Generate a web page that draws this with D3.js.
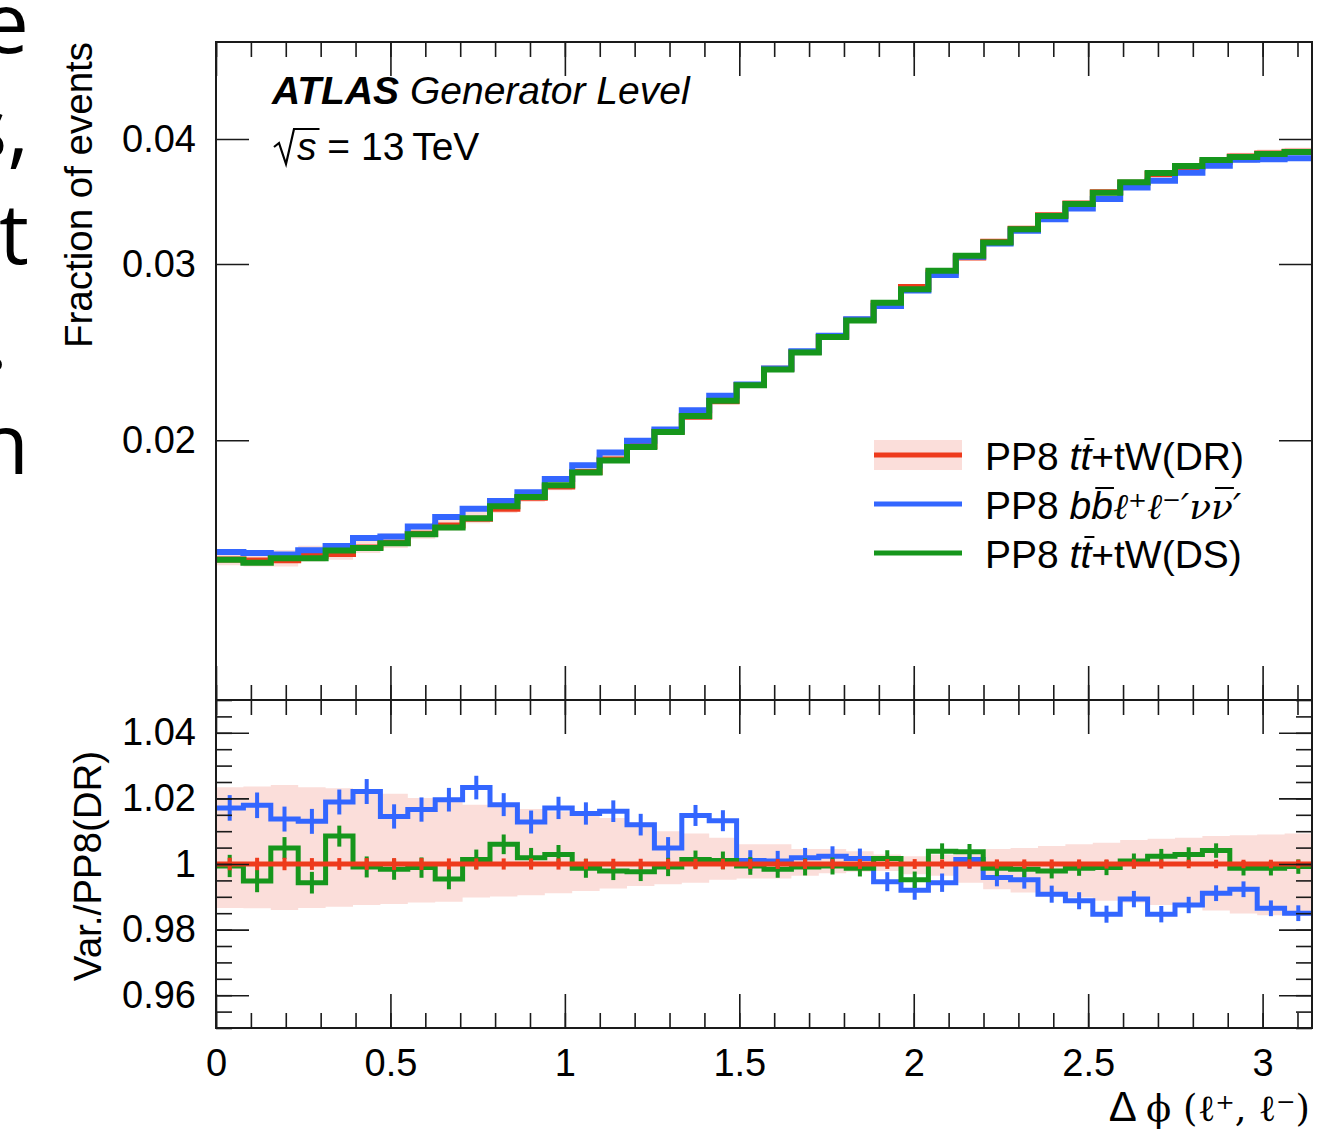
<!DOCTYPE html>
<html>
<head>
<meta charset="utf-8">
<script src="https://cdn.jsdelivr.net/npm/d3@7"></script>
<style>
	body { margin: 0; background: #fff; }
	svg { display: block; font-family: "Liberation Sans", Arial, sans-serif; }
</style>
</head>
<body>
<svg id="chart" width="1318" height="1133"></svg>
<script>
/* global d3 */

// 40 bins in delta phi from 0 to pi
const binEdges = d3.range(41).map((i) => (i * Math.PI) / 40);

// PP8 tt+tW(DR) fraction of events per bin
const drValues = [
	0.0152, 0.01516, 0.01517, 0.01533, 0.01539, 0.01562, 0.0158, 0.01613, 0.01644, 0.01669,
	0.01708, 0.01752, 0.01798, 0.01859, 0.01913, 0.01974, 0.0204, 0.02111, 0.02187, 0.02271,
	0.02357, 0.0245, 0.02538, 0.02638, 0.02739, 0.02845, 0.02942, 0.03046, 0.03157, 0.03254,
	0.03357, 0.03448, 0.03538, 0.03617, 0.0369, 0.03748, 0.03795, 0.03842, 0.03869, 0.03885,
];

// ratios to DR
const bb4lRatio = [
	1.0171, 1.0179, 1.0137, 1.013, 1.0189, 1.0221, 1.0145, 1.0166, 1.0196, 1.0233,
	1.0181, 1.0128, 1.0171, 1.0154, 1.0161, 1.012, 1.0049, 1.0148, 1.0132, 1.0011,
	1.0009, 1.0019, 1.0024, 1.0017, 0.9946, 0.992, 0.9943, 1.0014, 0.9959, 0.9952,
	0.9908, 0.9888, 0.9847, 0.9893, 0.9847, 0.9875, 0.9911, 0.9923, 0.9865, 0.985,
];
const dsRatio = [
	0.9994, 0.9948, 1.0049, 0.9943, 1.0085, 0.9991, 0.9984, 0.9989, 0.9954, 1.0014,
	1.006, 1.0019, 1.0029, 0.9987, 0.9979, 0.9976, 0.9991, 1.0014, 1.0011, 0.9994,
	0.9984, 0.9991, 0.9994, 0.9987, 1.0017, 0.9952, 1.0039, 1.0037, 0.9987, 0.9984,
	0.9979, 0.9987, 0.9989, 1.0009, 1.0024, 1.0029, 1.0041, 0.9987, 0.9987, 0.9992,
];

// statistical errors on the ratios
const bb4lErr = [
	0.0039, 0.0039, 0.0038, 0.0038, 0.0038, 0.0038, 0.0037, 0.0037, 0.0036, 0.0036,
	0.0035, 0.0035, 0.0034, 0.0034, 0.0033, 0.0033, 0.0033, 0.0032, 0.0032, 0.0031,
	0.0031, 0.003, 0.003, 0.003, 0.0029, 0.0029, 0.0028, 0.0028, 0.0027, 0.0027,
	0.0026, 0.0026, 0.0026, 0.0025, 0.0025, 0.0025, 0.0024, 0.0024, 0.0024, 0.0024,
];
const dsErr = [
	0.0034, 0.0034, 0.0033, 0.0033, 0.0032, 0.0032, 0.0032, 0.0031, 0.0031, 0.003,
	0.003, 0.003, 0.0029, 0.0029, 0.0028, 0.0028, 0.0028, 0.0027, 0.0027, 0.0027,
	0.0026, 0.0026, 0.0026, 0.0025, 0.0025, 0.0025, 0.0024, 0.0024, 0.0024, 0.0024,
	0.0023, 0.0023, 0.0023, 0.0023, 0.0022, 0.0022, 0.0022, 0.0022, 0.0022, 0.0022,
];
const drErr = [
	0.0019, 0.0019, 0.0019, 0.0018, 0.0018, 0.0018, 0.0018, 0.0018, 0.0017, 0.0017,
	0.0017, 0.0017, 0.0017, 0.0016, 0.0016, 0.0016, 0.0016, 0.0016, 0.0016, 0.0015,
	0.0015, 0.0015, 0.0015, 0.0015, 0.0015, 0.0015, 0.0014, 0.0014, 0.0014, 0.0014,
	0.0014, 0.0014, 0.0014, 0.0014, 0.0014, 0.0013, 0.0013, 0.0013, 0.0013, 0.0013,
];

// DR uncertainty band (relative)
const bandUp = [
	1.0234, 1.0236, 1.0241, 1.0234, 1.0231, 1.0226, 1.0214, 1.0201, 1.0191, 1.0181,
	1.0176, 1.0168, 1.0161, 1.0151, 1.014, 1.0128, 1.01, 1.0093, 1.008, 1.006,
	1.006, 1.0046, 1.0046, 1.0039, 1.0029, 1.0024, 1.0029, 1.0034, 1.0046, 1.0049,
	1.0055, 1.006, 1.0065, 1.0073, 1.0077, 1.008, 1.0085, 1.0088, 1.009, 1.0093,
];
const bandDown = [
	0.9866, 0.9865, 0.986, 0.9866, 0.987, 0.9875, 0.9878, 0.9883, 0.9885, 0.9898,
	0.9901, 0.9905, 0.9911, 0.9918, 0.9925, 0.9933, 0.9938, 0.9943, 0.9952, 0.9956,
	0.9956, 0.9964, 0.9972, 0.9976, 0.9979, 0.9969, 0.9964, 0.9943, 0.9923, 0.9913,
	0.9903, 0.9898, 0.9888, 0.9883, 0.9875, 0.9868, 0.9858, 0.9849, 0.9844, 0.9842,
];

const mainYTicks = [0.02, 0.03, 0.04];
const ratioYTicks = [0.96, 0.98, 1, 1.02, 1.04];
const xMajorTicks = [0, 0.5, 1, 1.5, 2, 2.5, 3];

const colors = { dr: "#ee3a1c", bb4l: "#3366ff", ds: "#16961c", band: "#fbdeda", axis: "#1a1a1a" };

const svg = d3.select("#chart");
const frame = { left: 216, right: 1312, top: 42, split: 700, bottom: 1028 };

const x = d3.scaleLinear().domain([0, Math.PI]).range([frame.left, frame.right]);
const yMain = d3.scaleLog().domain([0.011, 0.05]).range([frame.split, frame.top]);
const yRatio = d3.scaleLinear().domain([0.95, 1.05]).range([frame.bottom, frame.split]);

const xMinorTicks = d3.range(0, 3.15, 0.1);
const ratioMinorTicks = d3.range(0.95, 1.0501, 0.005);

function stepPoints(values) {
	return values.flatMap((v, i) => [
		[binEdges[i], v],
		[binEdges[i + 1], v],
	]);
}

function binCenter(i) {
	return (binEdges[i] + binEdges[i + 1]) / 2;
}

const bb4lValues = drValues.map((v, i) => v * bb4lRatio[i]);
const dsValues = drValues.map((v, i) => v * dsRatio[i]);

// clip paths
const defs = svg.append("defs");
defs.append("clipPath").attr("id", "clipMain").append("rect")
	.attr("x", frame.left).attr("y", frame.top)
	.attr("width", frame.right - frame.left).attr("height", frame.split - frame.top);
defs.append("clipPath").attr("id", "clipRatio").append("rect")
	.attr("x", frame.left).attr("y", frame.split)
	.attr("width", frame.right - frame.left).attr("height", frame.bottom - frame.split);

// cropped text at the left edge of the page
const edgeText = ["e", "s,", "t", ".", "n"];
svg.append("g")
	.attr("font-family", "'Open Sans', 'Noto Sans', sans-serif")
	.attr("font-size", 84)
	.selectAll("text")
	.data(edgeText)
	.join("text")
	.attr("x", (d) => (d === "." ? 8 : 29))
	.attr("y", (d, i) => 53 + i * 105.3)
	.attr("text-anchor", "end")
	.text((d) => d);

// ---------- main panel ----------
const main = svg.append("g").attr("clip-path", "url(#clipMain)");

const mainLine = d3.line().x((d) => x(d[0])).y((d) => yMain(d[1]));
const bandPts = drValues.flatMap((v, i) => [
	{ x: binEdges[i], lo: v * bandDown[i], hi: v * bandUp[i] },
	{ x: binEdges[i + 1], lo: v * bandDown[i], hi: v * bandUp[i] },
]);
main.append("path")
	.attr("fill", colors.band)
	.attr("d", d3.area().x((d) => x(d.x)).y0((d) => yMain(d.lo)).y1((d) => yMain(d.hi))(bandPts));

[
	[drValues, colors.dr],
	[bb4lValues, colors.bb4l],
	[dsValues, colors.ds],
].forEach(([values, color]) => {
	main.append("path")
		.attr("fill", "none")
		.attr("stroke", color)
		.attr("stroke-width", 6)
		.attr("d", mainLine(stepPoints(values)));
});

// ---------- ratio panel ----------
const ratio = svg.append("g").attr("clip-path", "url(#clipRatio)");
const ratioLine = d3.line().x((d) => x(d[0])).y((d) => yRatio(d[1]));
const ratioBandPts = bandUp.flatMap((v, i) => [
	{ x: binEdges[i], lo: bandDown[i], hi: v },
	{ x: binEdges[i + 1], lo: bandDown[i], hi: v },
]);
ratio.append("path")
	.attr("fill", colors.band)
	.attr("d", d3.area().x((d) => x(d.x)).y0((d) => yRatio(d.lo)).y1((d) => yRatio(d.hi))(ratioBandPts));

const drRatio = drValues.map(() => 1);
[
	[bb4lRatio, bb4lErr, colors.bb4l],
	[dsRatio, dsErr, colors.ds],
	[drRatio, drErr, colors.dr],
].forEach(([values, errs, color]) => {
	const g = ratio.append("g");
	g.append("path")
		.attr("fill", "none")
		.attr("stroke", color)
		.attr("stroke-width", 5)
		.attr("d", ratioLine(stepPoints(values)));
	g.selectAll("line")
		.data(values)
		.join("line")
		.attr("x1", (d, i) => x(binCenter(i)))
		.attr("x2", (d, i) => x(binCenter(i)))
		.attr("y1", (d, i) => yRatio(d - errs[i]))
		.attr("y2", (d, i) => yRatio(d + errs[i]))
		.attr("stroke", color)
		.attr("stroke-width", 4);
});

// ---------- axes ----------
function styleAxis(g) {
	g.attr("font-family", null).attr("font-size", 38);
	g.select(".domain").remove();
	g.selectAll(".tick line").attr("stroke", colors.axis).attr("stroke-width", 1.6);
	g.selectAll(".tick text").attr("fill", "#000");
}

function addAxis(axis, tx, ty) {
	svg.append("g").attr("transform", `translate(${tx},${ty})`).call(axis).call(styleAxis);
}

// x ticks on all horizontal frame lines
[
	[d3.axisTop, frame.top],
	[d3.axisBottom, frame.split],
	[d3.axisTop, frame.split],
	[d3.axisBottom, frame.bottom],
].forEach(([make, yPos]) => {
	addAxis(make(x).tickValues(xMinorTicks).tickSize(-15).tickFormat(""), 0, yPos);
	addAxis(make(x).tickValues(xMajorTicks).tickSize(-34).tickFormat(""), 0, yPos);
});
addAxis(
	d3.axisBottom(x).tickValues(xMajorTicks).tickSize(0).tickPadding(21).tickFormat((d) => String(d)),
	0,
	frame.bottom
);

// main y
addAxis(d3.axisLeft(yMain).tickValues(mainYTicks).tickSize(-33).tickPadding(20).tickFormat(d3.format(".2f")), frame.left, 0);
addAxis(d3.axisRight(yMain).tickValues(mainYTicks).tickSize(-33).tickFormat(""), frame.right, 0);

// ratio y
const ratioFmt = (d) => (Math.abs(d - 1) < 1e-9 ? "1" : d.toFixed(2));
addAxis(d3.axisLeft(yRatio).tickValues(ratioMinorTicks).tickSize(-16).tickFormat(""), frame.left, 0);
addAxis(d3.axisLeft(yRatio).tickValues(ratioYTicks).tickSize(-33).tickPadding(20).tickFormat(ratioFmt), frame.left, 0);
addAxis(d3.axisRight(yRatio).tickValues(ratioMinorTicks).tickSize(-16).tickFormat(""), frame.right, 0);
addAxis(d3.axisRight(yRatio).tickValues(ratioYTicks).tickSize(-33).tickFormat(""), frame.right, 0);

// frames
[
	[frame.top, frame.split],
	[frame.split, frame.bottom],
].forEach(([y0, y1]) => {
	svg.append("rect")
		.attr("x", frame.left).attr("y", y0)
		.attr("width", frame.right - frame.left).attr("height", y1 - y0)
		.attr("fill", "none").attr("stroke", colors.axis).attr("stroke-width", 2);
});

// axis titles
svg.append("text")
	.attr("transform", `translate(92,${frame.top}) rotate(-90)`)
	.attr("text-anchor", "end")
	.attr("font-size", 38.5)
	.text("Fraction of events");
svg.append("text")
	.attr("transform", `translate(101,866) rotate(-90)`)
	.attr("text-anchor", "middle")
	.attr("font-size", 38.5)
	.text("Var./PP8(DR)");

const xTitle = svg.append("text").attr("x", 1310).attr("y", 1121).attr("text-anchor", "end").attr("font-size", 42);
xTitle.append("tspan").text("Δ ");
xTitle.append("tspan").attr("font-family", "'DejaVu Serif', serif").attr("font-size", 37).text("ϕ (ℓ⁺, ℓ⁻)");

// ATLAS label
const atlas = svg.append("text").attr("x", 272).attr("y", 104).attr("font-size", 39).attr("font-style", "italic");
atlas.append("tspan").attr("font-weight", "bold").text("ATLAS");
atlas.append("tspan").text(" Generator Level");

const energy = svg.append("text").attr("x", 297).attr("y", 160).attr("font-size", 39);
const sTspan = energy.append("tspan").attr("font-style", "italic").text("s");
energy.append("tspan").text(" = 13\u2009TeV");
const sBox = sTspan.node().getBBox();
svg.append("path")
	.attr("fill", "none")
	.attr("stroke", "#000")
	.attr("stroke-width", 2.2)
	.attr("d", `M${sBox.x - 23},${147} L${sBox.x - 18},${143} L${sBox.x - 11},${164} L${sBox.x - 3},${129} L${sBox.x + sBox.width + 3},${129}`);

// ---------- legend ----------
const legendRows = [
	{ color: colors.dr, band: true, parts: [["PP8 ", ""], ["t", "i"], ["t", "ib"], ["+tW(DR)", ""]] },
	{ color: colors.bb4l, band: false, parts: [["PP8 ", ""], ["b", "i"], ["b", "ib"], ["ℓ⁺ℓ⁻′ν", "s"], ["ν", "sb"], ["′", "s"]] },
	{ color: colors.ds, band: false, parts: [["PP8 ", ""], ["t", "i"], ["t", "ib"], ["+tW(DS)", ""]] },
];
const legendY = [455, 504, 553];
const legend = svg.append("g");
legendRows.forEach((row, k) => {
	const y = legendY[k];
	if (row.band) {
		legend.append("rect").attr("x", 874).attr("y", y - 15).attr("width", 88).attr("height", 30).attr("fill", colors.band);
	}
	legend.append("line").attr("x1", 874).attr("x2", 962).attr("y1", y).attr("y2", y).attr("stroke", row.color).attr("stroke-width", 5);
	const text = legend.append("text").attr("x", 985).attr("y", y + 15).attr("font-size", 39);
	row.parts.forEach(([str, style]) => {
		const t = text.append("tspan").text(str);
		if (style.includes("i")) t.attr("font-style", "italic");
		if (style.includes("s")) t.attr("font-family", "'DejaVu Serif', serif").attr("font-style", "italic").attr("font-size", 36);
		if (style.includes("b")) t.classed("bar", true);
	});
	text.selectAll("tspan.bar").each(function () {
		const b = this.getBBox();
		legend.append("line")
			.attr("x1", b.x + 4).attr("x2", b.x + b.width + 1)
			.attr("y1", y - 16).attr("y2", y - 16)
			.attr("stroke", "#000").attr("stroke-width", 2);
	});
});
</script>
</body>
</html>
